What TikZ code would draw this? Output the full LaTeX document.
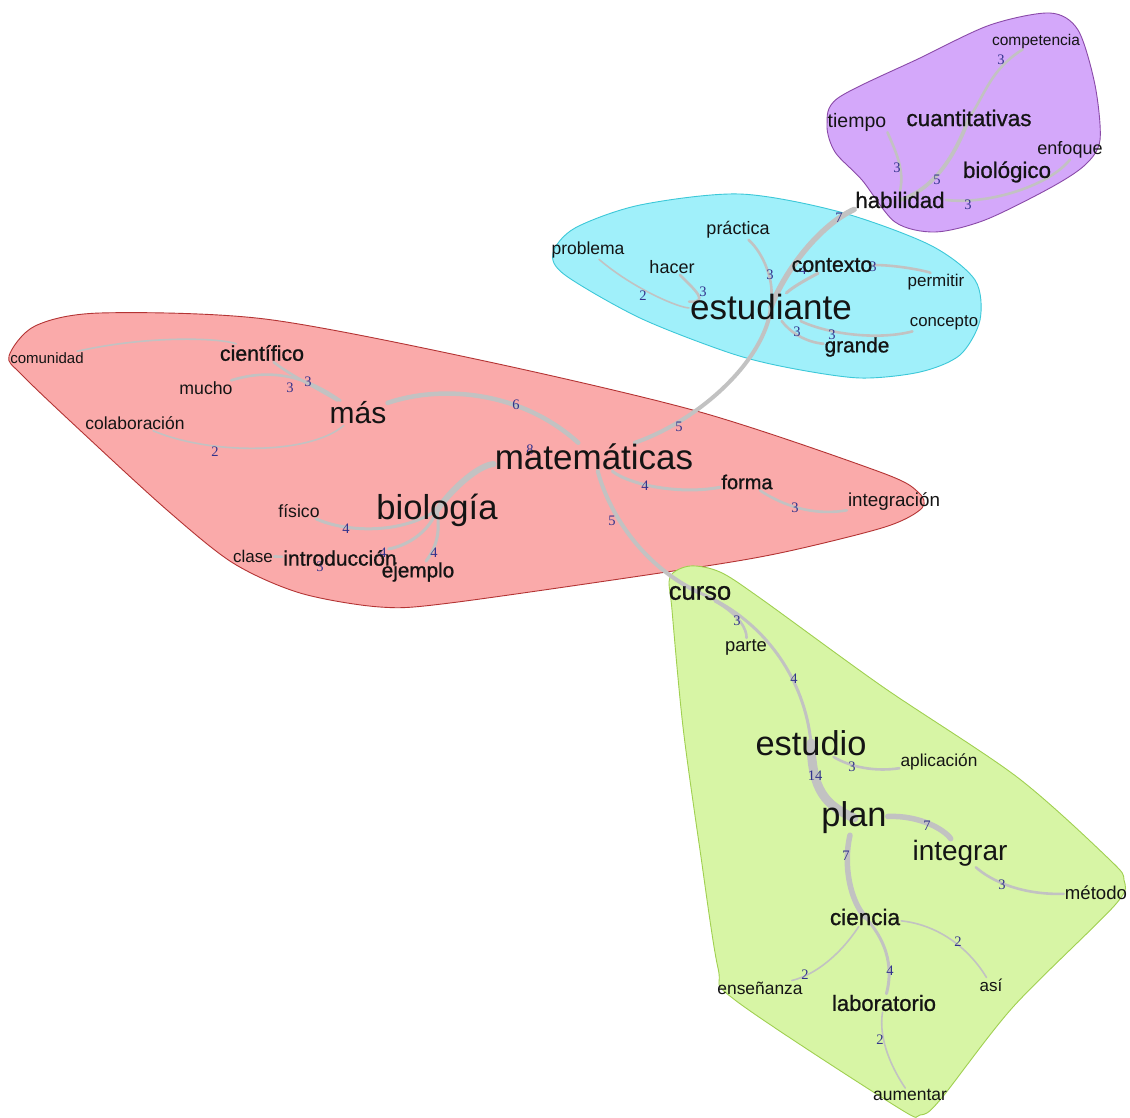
\documentclass[tikz,border=0pt]{standalone}
\usepackage{fontspec}
\setmainfont{Liberation Sans}
\newfontfamily\semib[FakeBold=0.9]{Liberation Sans}
\newfontfamily\labfont{Liberation Serif}
\pgfdeclarelayer{bg}
\pgfdeclarelayer{hull}
\pgfdeclarelayer{edges}
\pgfsetlayers{bg,hull,edges,main}
\definecolor{purfill}{HTML}{D4A8FA}
\definecolor{purline}{HTML}{8A4AA8}
\definecolor{cyafill}{HTML}{A0F0FA}
\definecolor{cyaline}{HTML}{3CC8D8}
\definecolor{redfill}{HTML}{FAAAAA}
\definecolor{redline}{HTML}{B43434}
\definecolor{grefill}{HTML}{D7F5A5}
\definecolor{greline}{HTML}{A0D050}
\definecolor{edgec}{HTML}{C2C2C2}
\definecolor{labc}{HTML}{32328C}
\definecolor{wordc}{HTML}{141414}
\tikzset{
  word/.style={font=\fontsize{#1}{#1}\selectfont, text=wordc, inner sep=1pt},
  wordb/.style={font=\semib\fontsize{#1}{#1}\selectfont, text=wordc, inner sep=1pt},
  conn/.style={draw=edgec, line width=#1, line cap=round},
  lbl/.style={font=\labfont\fontsize{14.5}{14.5}\selectfont, text=labc, inner sep=0pt},
  hull/.style={line width=0.9pt, smooth cycle, tension=0.5}
}
\begin{document}
\begin{tikzpicture}[x=1pt,y=-1pt]
\begin{pgfonlayer}{bg}
\fill[white] (0,0) rectangle (1130,1117);
\end{pgfonlayer}
\useasboundingbox (0,0) rectangle (1130,1117);

% ---------- words: purple ----------
\node[word=15.5] (cmp) at (1036,41) {competencia};
\node[word=19.5] (tie) at (857,122) {tiempo};
\node[wordb=22.5] (cua) at (969,118) {cuantitativas};
\node[word=18] (enf) at (1070,150) {enfoque};
\node[wordb=22.3] (bic) at (1007,172) {biológico};
\node[wordb=22.3] (hab) at (900,200) {habilidad};
% ---------- words: cyan ----------
\node[word=17.5] (pro) at (588,250) {problema};
\node[word=18] (hac) at (672,267) {hacer};
\node[word=18] (pra) at (738,230) {práctica};
\node[wordb=21.3] (con) at (832,265) {contexto};
\node[word=17] (per) at (936,282) {permitir};
\node[word=35] (est) at (771,307) {estudiante};
\node[word=16.8] (cpt) at (944,323) {concepto};
\node[wordb=20.8] (gra) at (857,347) {grande};
% ---------- words: red ----------
\node[word=15] (com) at (47,358) {comunidad};
\node[wordb=21.3] (cie) at (262,353) {científico};
\node[word=17.7] (muc) at (206,388) {mucho};
\node[word=30] (mas) at (358,413) {más};
\node[word=17.5] (col) at (135,423) {colaboración};
\node[word=35] (mat) at (594,457) {matemáticas};
\node[word=34.6] (bio) at (437,510) {biología};
\node[word=17.6] (fis) at (299,511) {físico};
\node[word=17] (cla) at (253,556) {clase};
\node[wordb=21] (int) at (340,558) {introducción};
\node[wordb=20.7] (eje) at (418,572) {ejemplo};
\node[wordb=20] (for) at (747,482) {forma};
\node[word=18.8] (itg) at (894,502) {integración};
% ---------- words: green ----------
\node[wordb=25.5] (cur) at (700,593) {curso};
\node[word=18.4] (par) at (746,647) {parte};
\node[word=34.4] (etd) at (811,743) {estudio};
\node[word=17.3] (apl) at (939,762) {aplicación};
\node[word=34.4] (pla) at (854,818) {plan};
\node[word=28] (igr) at (960,853) {integrar};
\node[word=18.6] (met) at (1096,893) {método};
\node[wordb=22.5] (cic) at (865,917) {ciencia};
\node[word=17.4] (ens) at (760,988) {enseñanza};
\node[word=17] (asi) at (991,985) {así};
\node[wordb=22] (lab) at (884,1003) {laboratorio};
\node[word=17.5] (aum) at (910,1095) {aumentar};

% ---------- hulls ----------
\begin{pgfonlayer}{hull}
\draw[hull, fill=redfill, draw=redline] plot coordinates {
 (9,356) (35,326) (100,313) (265,319) (480,360) (700,412) (880,472)
 (918,492) (922,508) (885,527) (780,553) (680,570) (450,603) (380,607)
 (300,593) (233,563) (167,510) (83,433) (22,375)};
\draw[hull, fill=grefill, draw=greline] plot coordinates {
 (670,577) (690,566) (720,572) (760,598) (883,687) (1017,777) (1110,860)
 (1124,880) (1115,905) (1013,1007) (940,1100) (920,1115) (897,1107)
 (735,1000) (718,968) (700,850) (683,727) (672,610)};
\draw[hull, fill=cyafill, draw=cyaline] plot coordinates {
 (553,253) (575,228) (640,205) (740,194) (840,212) (930,245) (975,280)
 (980,320) (960,355) (920,372) (860,378) (790,368) (730,353) (640,318)
 (565,275)};
\draw[hull, fill=purfill, draw=purline] plot coordinates {
 (827,125) (838,98) (920,58) (990,25) (1050,13) (1078,30) (1095,85)
 (1100,140) (1085,165) (1050,188) (985,220) (935,232) (895,222)
 (862,180) (835,152)};
\end{pgfonlayer}

% ---------- connectors ----------
\begin{pgfonlayer}{edges}
% purple
\draw[conn=3.8] (hab.center) .. controls (925,192) and (950,170) .. (cua.center);
\draw[conn=2.6] (cua.center) .. controls (985,95) and (990,70) .. (cmp);
\draw[conn=2.6] (tie.south east) .. controls (895,150) and (905,170) .. (hab.north);
\draw[conn=2.6] (hab.east) .. controls (990,205) and (1050,185) .. (enf.south);
% habilidad - estudiante - matemáticas
\draw[conn=5.5] (hab.south west) .. controls (820,225) and (785,270) .. (est.center);
\draw[conn=4] (est.center) .. controls (765,360) and (700,420) .. (mat);
% cyan
\draw[conn=1.6] (pro) .. controls (635,290) and (680,308) .. (est);
\draw[conn=2.6] (hac) .. controls (695,290) and (710,303) .. (est);
\draw[conn=2.6] (pra) .. controls (765,255) and (772,280) .. (est);
\draw[conn=3] (est) .. controls (795,285) and (815,275) .. (con);
\draw[conn=2.6] (con) .. controls (900,265) and (930,272) .. (per);
\draw[conn=2.6] (est) .. controls (790,332) and (805,342) .. (gra);
\draw[conn=2.6] (est) .. controls (830,335) and (880,340) .. (cpt);
% red
\draw[conn=4.5] (mas) .. controls (440,385) and (520,390) .. (mat);
\draw[conn=2.6] (cie) .. controls (290,375) and (320,390) .. (mas);
\draw[conn=2.6] (muc) .. controls (265,370) and (300,372) .. (mas);
\draw[conn=1.6] (col) .. controls (210,455) and (310,455) .. (mas);
\draw[conn=1.6] (com) .. controls (150,335) and (220,338) .. (cie);
\draw[conn=6] (bio.center) .. controls (455,485) and (480,465) .. (mat);
\draw[conn=3] (fis) .. controls (345,532) and (400,535) .. (bio.center);
\draw[conn=3] (bio.center) .. controls (430,530) and (410,545) .. (int);
\draw[conn=3] (bio.center) .. controls (440,530) and (438,545) .. (eje);
\draw[conn=2.6] (cla) -- (int);
\draw[conn=3] (mat) .. controls (630,485) and (680,495) .. (for);
\draw[conn=2.6] (for) .. controls (790,510) and (820,515) .. (itg);
\draw[conn=4] (mat) .. controls (608,510) and (640,565) .. (cur.center);
% green
\draw[conn=3] (cur.center) .. controls (765,620) and (805,680) .. (etd.center);
\draw[conn=2.6] (cur) .. controls (740,615) and (747,630) .. (par);
\draw[conn=9] (etd.center) .. controls (812,790) and (825,805) .. (pla.center);
\draw[conn=2.6] (etd) .. controls (850,767) and (875,772) .. (apl);
\draw[conn=5.5] (pla) .. controls (920,815) and (945,830) .. (igr);
\draw[conn=2.6] (igr) .. controls (990,880) and (1020,895) .. (met);
\draw[conn=5.5] (pla) .. controls (843,865) and (850,900) .. (cic.center);
\draw[conn=3] (cic.center) .. controls (895,950) and (890,980) .. (lab);
\draw[conn=1.6] (cic) .. controls (940,925) and (970,950) .. (asi);
\draw[conn=1.6] (cic) .. controls (840,955) and (815,975) .. (ens);
\draw[conn=1.6] (lab) .. controls (878,1040) and (893,1070) .. (aum);

% ---------- edge labels ----------
\node[lbl] (l1) at (1001,60) {3};
\node[lbl] (l2) at (897,168) {3};
\node[lbl] (l3) at (937,180) {5};
\node[lbl] (l4) at (968,205) {3};
\node[lbl] (l5) at (839,218) {7};
\node[lbl] (l6) at (643,296) {2};
\node[lbl] (l7) at (703,292) {3};
\node[lbl] (l8) at (770,275) {3};
\node[lbl] (l9) at (803,270) {4};
\node[lbl] (l10) at (873,267) {3};
\node[lbl] (l11) at (797,332) {3};
\node[lbl] (l12) at (832,335) {3};
\node[lbl] (l13) at (679,427) {5};
\node[lbl] (l14) at (516,405) {6};
\node[lbl] (l15) at (308,382) {3};
\node[lbl] (l16) at (290,388) {3};
\node[lbl] (l17) at (215,452) {2};
\node[lbl] (l18) at (530,450) {8};
\node[lbl] (l19) at (346,529) {4};
\node[lbl] (l20) at (383,553) {4};
\node[lbl] (l21) at (434,553) {4};
\node[lbl] (l22) at (320,567) {3};
\node[lbl] (l23) at (645,486) {4};
\node[lbl] (l24) at (795,508) {3};
\node[lbl] (l25) at (612,521) {5};
\node[lbl] (l26) at (737,621) {3};
\node[lbl] (l27) at (794,679) {4};
\node[lbl] (l28) at (815,776) {14};
\node[lbl] (l29) at (852,767) {3};
\node[lbl] (l30) at (927,826) {7};
\node[lbl] (l31) at (1002,885) {3};
\node[lbl] (l32) at (846,856) {7};
\node[lbl] (l33) at (890,971) {4};
\node[lbl] (l34) at (958,942) {2};
\node[lbl] (l35) at (805,975) {2};
\node[lbl] (l36) at (880,1040) {2};
\end{pgfonlayer}
\end{tikzpicture}
\end{document}
